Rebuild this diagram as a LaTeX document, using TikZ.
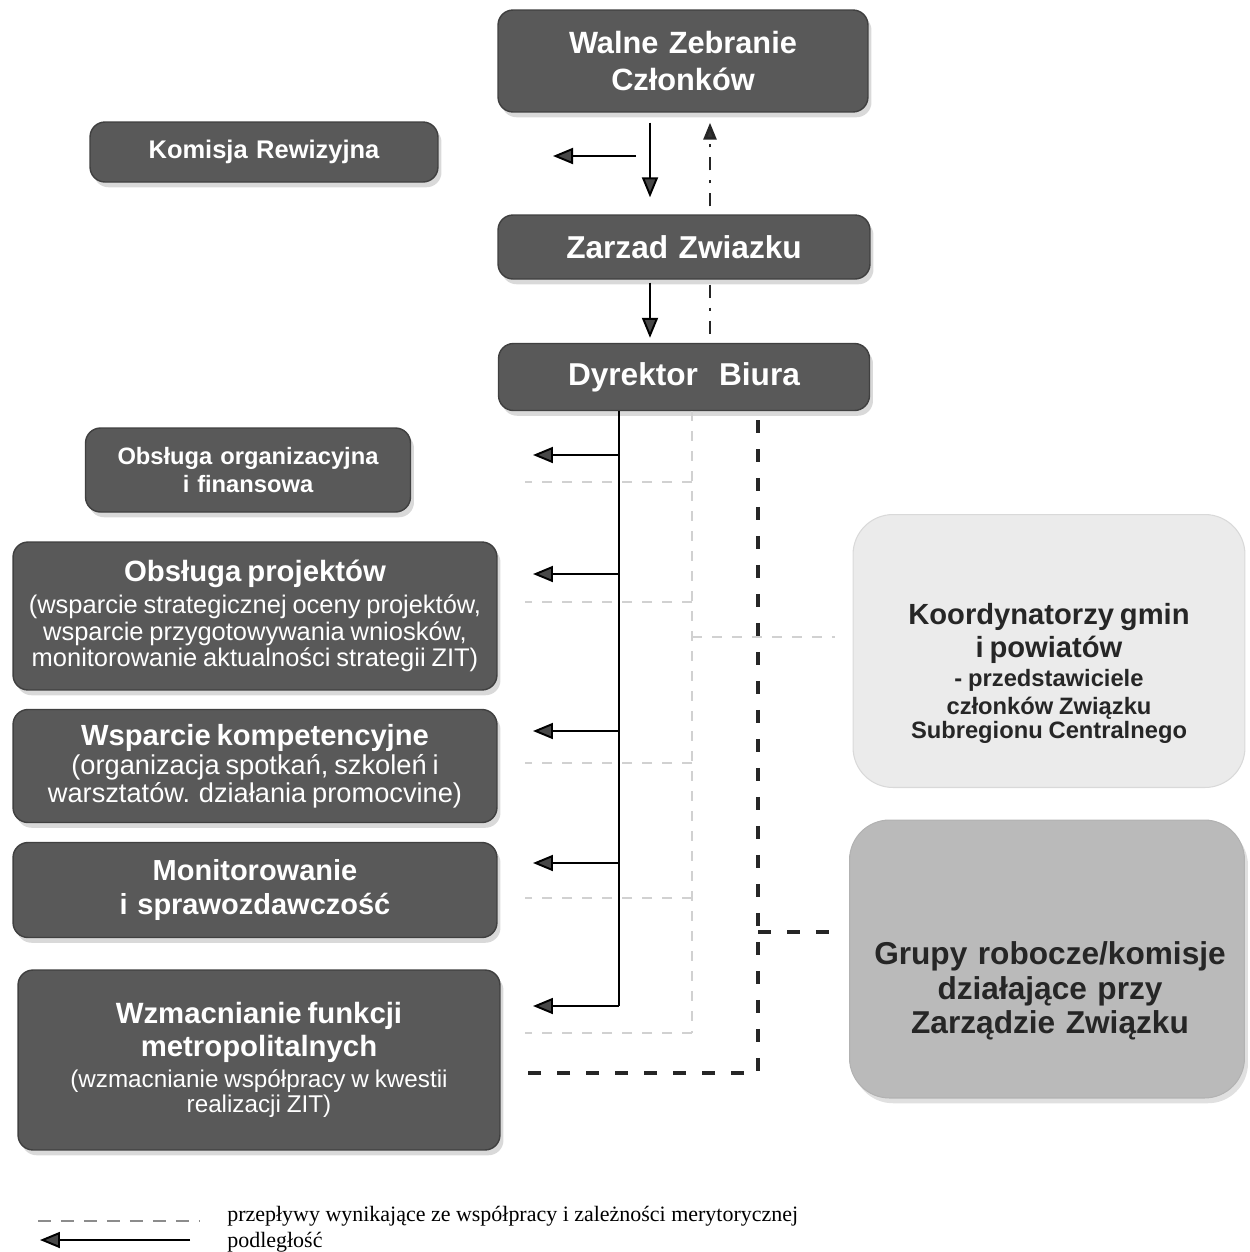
\documentclass[tikz,border=0pt]{standalone}
\usepackage{fontspec}
\setmainfont{Liberation Sans}
\newfontfamily\legfont{Liberation Serif}
\usetikzlibrary{arrows.meta,shadows,calc}
\definecolor{boxgray}{HTML}{595959}
\definecolor{lightbox}{HTML}{EBEBEB}
\definecolor{midbox}{HTML}{BABABA}
\begin{document}
\begin{tikzpicture}[x=0.02cm,y=-0.02cm,
  box/.style={draw=black!75, line width=0.8pt, fill=boxgray, rounded corners=0.3cm,
    text=white, font=\bfseries, align=center, inner sep=0pt,
    drop shadow={shadow xshift=2pt, shadow yshift=-3pt, fill=black!15, opacity=1}},
  sidebox/.style={draw=black!15, line width=0.6pt, rounded corners=0.8cm, inner sep=0pt},
  sidetext/.style={text=black!85, font=\bfseries, align=center, inner sep=0pt},
  sub/.style={-{Triangle[length=0.4cm,width=0.32cm,fill=black!72]}, line width=1.1pt, draw=black},
  coop/.style={draw=black!85, line width=1.8pt, dash pattern=on 0.26cm off 0.32cm},
  coopdot/.style={draw=black!85, line width=1.6pt, dash pattern=on 0.26cm off 0.2cm on 0.06cm off 0.2cm},
  faint/.style={draw=black!18, line width=0.8pt, dash pattern=on 0.2cm off 0.2cm},
  legtxt/.style={font=\legfont\fontsize{12.5}{14}\selectfont, anchor=west, inner sep=0pt}
]
\useasboundingbox (0,0) rectangle (1250,1252);

% boxes
\node[box, minimum width=7.4cm, minimum height=2.04cm, text width=7cm,
  font=\bfseries\fontsize{17.5}{21}\selectfont] (walne) at (683,61) {Walne Zebranie\\Członków};
\node[box, minimum width=6.96cm, minimum height=1.2cm, text width=6.6cm,
  font=\bfseries\fontsize{14.5}{17}\selectfont] (komisja) at (264,152) {Komisja Rewizyjna};
\node[box, minimum width=7.44cm, minimum height=1.28cm, text width=7cm,
  font=\bfseries\fontsize{18}{21}\selectfont] (zarzad) at (684,247) {Zarzad Zwiazku};
\node[box, minimum width=7.42cm, minimum height=1.34cm, text width=7cm,
  font=\bfseries\fontsize{18}{21}\selectfont] (dyrektor) at (684,377) {Dyrektor\ \ Biura};

\node[box, minimum width=6.5cm, minimum height=1.68cm, text width=6.2cm,
  font=\bfseries\fontsize{13.5}{16}\selectfont] (obsorg) at (248,470) {Obsługa organizacyjna\\i finansowa};
\node[box, minimum width=9.68cm, minimum height=2.96cm, text width=9.5cm] (obsproj) at (255,616)
  {\fontsize{16.7}{19}\selectfont Obsługa projektów\\[3pt]
   \mdseries\fontsize{14.5}{15.4}\selectfont (wsparcie strategicznej oceny projektów,\\
   wsparcie przygotowywania wniosków,\\ monitorowanie aktualności strategii ZIT)};
\node[box, minimum width=9.68cm, minimum height=2.26cm, text width=9.5cm] (wsparcie) at (255,766)
  {\fontsize{16.6}{19}\selectfont Wsparcie kompetencyjne\\[1.5pt]
   \mdseries\fontsize{15.5}{15.4}\selectfont (organizacja spotkań, szkoleń i\\
   warsztatów. działania promocvine)};
\node[box, minimum width=9.68cm, minimum height=1.9cm, text width=9.4cm,
  font=\bfseries\fontsize{16.5}{19}\selectfont] (monit) at (255,890)
  {Monitorowanie\\i sprawozdawczość};
\node[box, minimum width=9.64cm, minimum height=3.6cm, text width=9.4cm] (wzmac) at (259,1060)
  {\fontsize{16.7}{18.5}\selectfont Wzmacnianie funkcji\\ metropolitalnych\\[2.5pt]
   \mdseries\fontsize{13.8}{15.4}\selectfont (wzmacnianie współpracy w kwestii\\ realizacji ZIT)};

\node[sidebox, fill=lightbox, minimum width=7.84cm, minimum height=5.46cm] (koord) at (1049,651) {};
\node[sidetext, text width=7.4cm] (koordtxt) at (1049,673)
  {\fontsize{16.6}{19.3}\selectfont Koordynatorzy gmin\\ i powiatów\\
   \fontsize{13.5}{16}\selectfont - przedstawiciele\\ członków Związku\\ Subregionu Centralnego};
\node[sidebox, fill=midbox, draw=black!30, minimum width=7.9cm, minimum height=5.56cm,
  drop shadow={shadow xshift=2pt, shadow yshift=-3pt, fill=black!12, opacity=1}] (grupy) at (1047,959) {};
\node[sidetext, text width=7.6cm, font=\bfseries\fontsize{18}{19.8}\selectfont] (grupytxt) at (1050,991)
  {Grupy robocze/komisje\\ działające przy\\ Zarządzie Związku};

% column coordinates
\coordinate (cdown) at (650,0);
\coordinate (cup) at (710,0);
\coordinate (trunkx) at (619,0);
\coordinate (tipx) at (533,0);
\coordinate (faintx) at (692,0);
\coordinate (faintl) at (525,0);
\coordinate (koordl) at (835,0);
\coordinate (kfrom) at (636,156);
\coordinate (kto) at (553,156);

% top connectors
\draw[sub, shorten <=0.2cm, shorten >=0.34cm] (walne.south -| cdown) -- (zarzad.north -| cdown);
\draw[sub] (kfrom) -- (kto);
\draw[coopdot, -{Triangle[length=0.34cm,width=0.26cm,fill=black!80]}, shorten <=0.16cm, shorten >=0.2cm] (zarzad.north -| cup) -- (walne.south -| cup);
\draw[sub, shorten <=0.06cm, shorten >=0.1cm] (zarzad.south -| cdown) -- (dyrektor.north -| cdown);
\draw[coopdot, shorten <=0.1cm, shorten >=0.1cm] (zarzad.south -| cup) -- (dyrektor.north -| cup);

% faint cooperation lines
\coordinate (f1) at (692,482);
\coordinate (f2) at (692,602);
\coordinate (f3) at (692,763);
\coordinate (f4) at (692,898);
\coordinate (f5) at (692,1033);
\coordinate (fk) at (692,637);
\draw[faint] (dyrektor.south -| faintx) -- (f5);
\foreach \f in {f1,f2,f3,f4,f5} \draw[faint] (\f) -- (\f -| faintl);
\draw[faint] (fk) -- (fk -| koordl);

% subordination tree
\coordinate (a1) at (619,455);
\coordinate (a2) at (619,574);
\coordinate (a3) at (619,731);
\coordinate (a4) at (619,863);
\coordinate (a5) at (619,1006);
\draw[line width=1.1pt] (dyrektor.south -| trunkx) -- (a5);
\foreach \a in {a1,a2,a3,a4,a5} \draw[sub] (\a) -- (\a -| tipx);

% dark cooperation lines
\coordinate (d0) at (758,420);
\coordinate (d1) at (758,1073);
\coordinate (dl) at (527,1073);
\coordinate (dg) at (758,932);
\draw[coop] (d0) -- (d1) -- (dl);
\draw[coop] (dg) -- (dg -| koordl);

% legend
\coordinate (l1a) at (38,1221);
\coordinate (l1b) at (200,1221);
\coordinate (l2a) at (190,1240);
\coordinate (l2b) at (40,1240);
\draw[draw=black!45, line width=1.6pt, dash pattern=on 0.26cm off 0.2cm] (l1a) -- (l1b);
\draw[sub] (l2a) -- (l2b);
\node[legtxt] (leg1) at (227,1216) {przepływy wynikające ze współpracy i zależności merytorycznej};
\node[legtxt] (leg2) at (227,1242) {podległość};
\end{tikzpicture}
\end{document}
